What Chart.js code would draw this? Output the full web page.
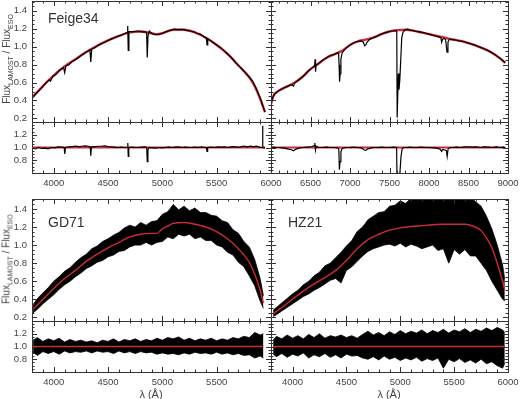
<!DOCTYPE html>
<html>
<head>
<meta charset="utf-8">
<script src="https://cdn.jsdelivr.net/npm/chart.js@4.4.1/dist/chart.umd.min.js"></script>
<style>
body { margin: 0; background: #fff; }
#wrap { position: relative; width: 520px; height: 399px; overflow: hidden; font-family: "Liberation Sans", Arial, sans-serif; color: #444; }
#wrap canvas { position: absolute; left: 0; top: 0; }
.name { position: absolute; font-size: 14px; color: #333; }
.ytitle { position: absolute; left: 7px; font-size: 10px; white-space: nowrap; transform: translate(-50%, -50%) rotate(-90deg); }
.ytitle sub { font-size: 7px; }
.xtitle { position: absolute; top: 394px; font-size: 11px; transform: translate(-50%, -50%); }
</style>
</head>
<body>
<div id="wrap">
  <canvas id="f34a" width="520" height="399"></canvas>
  <canvas id="f34b" width="520" height="399"></canvas>
  <canvas id="f34c" width="520" height="399"></canvas>
  <canvas id="f34d" width="520" height="399"></canvas>
  <canvas id="gda" width="520" height="399"></canvas>
  <canvas id="gdb" width="520" height="399"></canvas>
  <canvas id="hza" width="520" height="399"></canvas>
  <canvas id="hzb" width="520" height="399"></canvas>
  <div class="name" style="left:48px;top:10px">Feige34</div>
  <div class="name" style="left:48px;top:214px">GD71</div>
  <div class="name" style="left:288px;top:214px">HZ21</div>
  <div class="ytitle" style="top:59px">Flux<sub>LAMOST</sub> / Flux<sub>ESO</sub></div>
  <div class="ytitle" style="top:259px">Flux<sub>LAMOST</sub> / Flux<sub>ESO</sub></div>
  <div class="xtitle" style="left:151px">λ (Å)</div>
  <div class="xtitle" style="left:389px">λ (Å)</div>
</div>
<script>
// ---- axis ticks ----
const blueRange = [3800, 6000];
const redRange = [6000, 9000];
const fluxRange = [0.16, 1.51];
const ratioRange = [0.6, 1.4];
const blueTicks = [4000, 4500, 5000, 5500];
const blueTicksEnd = [4000, 4500, 5000, 5500, 6000];
const redTicks = [6000, 6500, 7000, 7500, 8000, 8500, 9000];
const fluxTicks = [0.2, 0.4, 0.6, 0.8, 1.0, 1.2, 1.4];
const ratioTicks = [0.8, 1.0, 1.2];

// ---- Feige34, blue arm: observed [lambda, flux] ----
const feigeBlue = [[3800,0.43],[3830,0.47],[3860,0.505],[3900,0.555],[3930,0.60],[3960,0.63],[3970,0.615],[3990,0.665],
  [4020,0.69],[4050,0.735],[4070,0.75],[4090,0.77],[4101,0.71],[4112,0.785],[4140,0.80],[4170,0.835],[4200,0.855],
  [4230,0.88],[4260,0.91],[4290,0.935],[4320,0.955],[4333,0.965],[4341,0.83],[4350,0.975],[4380,0.99],[4410,1.015],
  [4440,1.035],[4470,1.05],[4500,1.07],[4530,1.085],[4560,1.10],[4590,1.115],[4620,1.13],[4650,1.145],[4675,1.16],
  [4681,1.23],[4686,0.96],[4692,1.17],[4720,1.165],[4750,1.17],[4780,1.175],[4810,1.165],[4840,1.165],[4855,1.16],
  [4861,0.88],[4868,1.12],[4880,1.175],[4900,1.15],[4930,1.135],[4960,1.135],[4990,1.145],[5020,1.16],[5050,1.175],
  [5080,1.185],[5110,1.195],[5140,1.19],[5170,1.195],[5200,1.19],[5230,1.18],[5260,1.175],[5290,1.165],[5320,1.15],
  [5350,1.14],[5380,1.115],[5405,1.095],[5411,1.02],[5418,1.09],[5440,1.07],[5470,1.045],[5500,1.02],[5530,0.995],
  [5560,0.965],[5590,0.93],[5620,0.895],[5650,0.86],[5680,0.815],[5710,0.78],[5740,0.74],[5770,0.70],[5800,0.66],
  [5830,0.62],[5860,0.545],[5890,0.46],[5910,0.40],[5930,0.32],[5945,0.27]];
const feigeBlueModel = [[3800,0.43],[3900,0.56],[4000,0.68],[4100,0.78],[4200,0.86],[4300,0.94],[4400,1.01],[4500,1.07],
  [4600,1.12],[4700,1.16],[4800,1.17],[4900,1.15],[4950,1.14],[5000,1.15],[5100,1.19],[5200,1.19],[5300,1.16],
  [5400,1.10],[5500,1.02],[5600,0.92],[5700,0.79],[5800,0.66],[5850,0.56],[5900,0.42],[5945,0.27]];
const feigeBlueRatio = [[3800,0.99],[3830,0.98],[3860,1.00],[3890,0.985],[3920,0.99],[3950,0.98],[3980,1.00],[4010,0.995],
  [4040,1.01],[4070,1.005],[4096,1.00],[4102,0.90],[4108,1.00],[4140,1.01],[4170,1.015],[4200,1.02],[4230,1.015],
  [4260,1.02],[4290,1.025],[4320,1.02],[4336,1.01],[4341,0.87],[4347,1.01],[4380,1.015],[4410,1.02],[4440,1.02],
  [4470,1.025],[4500,1.015],[4530,1.01],[4560,1.005],[4590,1.00],[4620,1.005],[4650,1.00],[4677,1.00],[4682,1.07],
  [4686,0.86],[4691,1.00],[4720,1.005],[4750,1.00],[4780,1.00],[4810,1.005],[4840,1.01],[4856,1.00],[4861,0.78],
  [4867,0.96],[4880,1.00],[4910,0.995],[4940,0.99],[4970,1.00],[5000,0.995],[5030,1.00],[5060,1.005],[5090,1.00],
  [5120,1.005],[5150,1.01],[5180,1.00],[5210,1.005],[5240,1.00],[5270,1.00],[5300,1.005],[5330,1.00],[5360,1.01],
  [5390,1.00],[5406,1.00],[5411,0.94],[5417,1.00],[5450,1.005],[5480,1.00],[5510,1.01],[5540,1.005],[5570,1.01],
  [5600,1.00],[5630,1.01],[5660,1.015],[5690,1.005],[5720,1.01],[5750,1.02],[5780,1.01],[5810,1.02],[5840,1.015],
  [5870,1.02],[5900,1.00],[5918,1.00],[5922,1.34],[5926,1.00],[5945,0.99]];

// ---- Feige34, red arm ----
const feigeRed = [[6000,0.36],[6015,0.42],[6040,0.465],[6070,0.49],[6100,0.51],[6130,0.525],[6160,0.54],[6200,0.555],
  [6240,0.57],[6270,0.575],[6283,0.56],[6300,0.595],[6330,0.615],[6360,0.635],[6400,0.665],[6430,0.69],[6460,0.72],
  [6500,0.75],[6530,0.77],[6552,0.79],[6558,0.86],[6564,0.72],[6572,0.80],[6600,0.81],[6630,0.835],[6660,0.855],
  [6700,0.875],[6730,0.89],[6760,0.905],[6800,0.915],[6830,0.925],[6855,0.93],[6862,0.80],[6868,0.61],[6875,0.70],
  [6885,0.86],[6900,0.93],[6930,0.965],[6960,0.99],[7000,1.02],[7030,1.035],[7060,1.05],[7100,1.06],[7140,1.065],
  [7170,1.05],[7185,1.01],[7200,1.02],[7215,1.05],[7240,1.075],[7270,1.09],[7300,1.10],[7340,1.115],[7380,1.135],
  [7420,1.15],[7460,1.16],[7500,1.17],[7540,1.175],[7580,1.18],[7592,1.17],[7597,0.21],[7606,0.21],[7612,0.70],
  [7620,0.52],[7630,0.62],[7642,0.85],[7655,1.10],[7670,1.16],[7700,1.19],[7730,1.195],[7760,1.185],[7800,1.18],
  [7840,1.17],[7880,1.165],[7920,1.16],[7960,1.15],[8000,1.14],[8040,1.13],[8080,1.12],[8120,1.11],[8150,1.10],
  [8160,1.05],[8170,1.08],[8190,1.095],[8210,1.08],[8228,0.94],[8240,1.05],[8260,1.085],[8300,1.08],[8340,1.075],
  [8380,1.065],[8420,1.06],[8460,1.05],[8500,1.04],[8540,1.03],[8580,1.02],[8620,1.005],[8660,0.99],[8700,0.975],
  [8740,0.96],[8780,0.94],[8820,0.92],[8860,0.895],[8900,0.87],[8940,0.84],[8965,0.82]];
const feigeRedModel = [[6000,0.36],[6030,0.45],[6100,0.51],[6200,0.555],[6300,0.60],[6400,0.665],[6500,0.75],[6600,0.81],
  [6700,0.875],[6800,0.915],[6900,0.955],[7000,1.02],[7100,1.06],[7200,1.08],[7300,1.105],[7400,1.14],[7500,1.17],
  [7600,1.185],[7700,1.19],[7800,1.18],[7900,1.16],[8000,1.14],[8100,1.12],[8200,1.10],[8300,1.08],[8400,1.065],
  [8500,1.04],[8600,1.01],[8700,0.975],[8800,0.93],[8900,0.87],[8965,0.82]];
const feigeRedRatio = [[6000,1.00],[6030,1.005],[6060,1.00],[6100,1.00],[6140,0.995],[6180,0.985],[6220,0.975],[6260,0.965],
  [6283,0.95],[6310,0.97],[6350,0.99],[6400,1.00],[6440,1.005],[6480,1.005],[6520,1.015],[6545,1.03],[6555,1.07],
  [6563,0.96],[6572,1.02],[6600,1.00],[6650,1.00],[6700,1.005],[6750,1.00],[6800,1.00],[6840,0.995],[6858,0.98],
  [6866,0.65],[6874,0.78],[6885,0.93],[6900,0.985],[6950,1.00],[7000,1.00],[7050,1.005],[7100,1.00],[7150,0.99],
  [7180,0.96],[7200,0.955],[7220,0.975],[7260,0.99],[7300,1.00],[7350,1.00],[7400,1.005],[7450,1.00],[7500,1.00],
  [7550,1.005],[7590,1.00],[7597,0.30],[7606,0.30],[7612,0.55],[7620,0.50],[7632,0.60],[7645,0.85],[7660,0.98],
  [7680,1.00],[7720,1.00],[7760,1.005],[7800,1.00],[7850,1.00],[7900,1.005],[7950,1.00],[8000,1.00],[8050,0.995],
  [8100,0.99],[8140,0.975],[8160,0.94],[8175,0.97],[8200,0.96],[8220,0.95],[8230,0.86],[8242,0.98],[8270,1.00],
  [8300,1.00],[8350,1.005],[8400,1.00],[8450,1.01],[8500,1.01],[8550,1.005],[8600,1.01],[8650,1.00],[8700,1.01],
  [8750,1.005],[8800,1.00],[8850,1.01],[8900,1.00],[8940,1.005],[8965,0.995]];

// ---- GD71: noisy spectrum as [lambda, upper, lower] ----
const gdBand = [[3810,0.34,0.25],[3850,0.41,0.29],[3900,0.47,0.35],[3950,0.53,0.40],[4000,0.60,0.45],[4050,0.65,0.51],
  [4100,0.71,0.56],[4150,0.75,0.60],[4200,0.81,0.65],[4250,0.86,0.69],[4300,0.90,0.74],[4350,0.96,0.77],[4400,0.99,0.81],
  [4450,1.04,0.83],[4500,1.07,0.87],[4550,1.11,0.89],[4600,1.14,0.93],[4650,1.19,0.94],[4700,1.22,0.98],[4750,1.20,1.00],
  [4800,1.25,1.00],[4850,1.22,1.03],[4900,1.26,1.00],[4950,1.27,1.03],[5000,1.34,1.04],[5050,1.37,1.09],[5100,1.45,1.07],
  [5150,1.39,1.12],[5200,1.43,1.10],[5250,1.38,1.12],[5300,1.41,1.07],[5350,1.36,1.09],[5400,1.36,1.05],[5450,1.33,1.05],
  [5500,1.32,1.00],[5550,1.27,0.98],[5600,1.25,0.92],[5650,1.17,0.89],[5700,1.13,0.81],[5750,1.04,0.76],[5800,0.98,0.66],
  [5850,0.84,0.55],[5900,0.63,0.38],[5930,0.44,0.30]];
const gdModel = [[3810,0.29],[3900,0.40],[4000,0.52],[4100,0.63],[4200,0.72],[4300,0.82],[4400,0.90],[4500,0.97],
  [4600,1.03],[4700,1.09],[4800,1.12],[4900,1.13],[4950,1.13],[5000,1.18],[5050,1.21],[5100,1.24],[5200,1.25],
  [5300,1.23],[5400,1.20],[5500,1.15],[5600,1.07],[5700,0.96],[5800,0.81],[5850,0.68],[5900,0.50],[5930,0.36]];
const gdRatioBand = [[3810,1.10,0.91],[3850,1.14,0.86],[3900,1.08,0.92],[3950,1.12,0.89],[4000,1.09,0.92],[4050,1.13,0.88],
  [4100,1.07,0.93],[4150,1.11,0.90],[4200,1.08,0.92],[4250,1.10,0.91],[4300,1.07,0.93],[4350,1.09,0.90],[4400,1.06,0.93],
  [4450,1.10,0.91],[4500,1.08,0.92],[4550,1.12,0.89],[4600,1.07,0.93],[4650,1.11,0.90],[4700,1.09,0.92],[4750,1.12,0.89],
  [4800,1.08,0.92],[4850,1.11,0.90],[4900,1.09,0.91],[4950,1.13,0.88],[5000,1.10,0.90],[5050,1.14,0.88],[5100,1.12,0.89],
  [5150,1.15,0.87],[5200,1.10,0.90],[5250,1.13,0.88],[5300,1.09,0.91],[5350,1.12,0.89],[5400,1.10,0.90],[5450,1.13,0.88],
  [5500,1.09,0.91],[5550,1.12,0.88],[5600,1.10,0.90],[5650,1.14,0.87],[5700,1.12,0.89],[5750,1.16,0.86],[5800,1.14,0.87],
  [5850,1.22,0.82],[5900,1.18,0.85],[5930,1.20,0.82]];
const gdRatioModel = [[3810,1.0],[5930,1.0]];

// ---- HZ21 ----
const hzBand = [[3820,0.28,0.21],[3850,0.31,0.23],[3900,0.36,0.27],[3950,0.41,0.31],[4000,0.46,0.35],[4050,0.50,0.39],
  [4100,0.56,0.43],[4150,0.60,0.46],[4200,0.66,0.50],[4250,0.70,0.53],[4300,0.77,0.57],[4350,0.80,0.61],[4400,0.86,0.63],
  [4450,0.92,0.58],[4500,0.99,0.72],[4550,1.05,0.76],[4600,1.15,0.82],[4650,1.20,0.88],[4700,1.28,0.93],[4750,1.32,0.96],
  [4800,1.36,0.98],[4850,1.37,1.00],[4900,1.43,1.01],[4950,1.44,0.99],[5000,1.49,1.02],[5050,1.46,0.98],[5100,1.52,1.01],
  [5150,1.55,0.99],[5200,1.55,0.96],[5250,1.56,0.98],[5300,1.55,1.00],[5350,1.56,0.94],[5400,1.55,0.96],[5450,1.56,0.80],
  [5500,1.55,0.95],[5550,1.56,0.90],[5600,1.55,0.95],[5650,1.53,0.88],[5700,1.48,0.88],[5750,1.43,0.80],[5800,1.32,0.72],
  [5850,1.18,0.60],[5900,1.00,0.50],[5950,0.78,0.40],[5970,0.62,0.38]];
const hzModel = [[3820,0.24],[3900,0.31],[4000,0.40],[4100,0.49],[4200,0.57],[4300,0.64],[4400,0.72],[4500,0.83],
  [4600,0.96],[4700,1.06],[4800,1.12],[4900,1.165],[5000,1.19],[5100,1.205],[5200,1.215],[5300,1.225],[5400,1.23],
  [5500,1.23],[5600,1.23],[5650,1.22],[5700,1.20],[5750,1.16],[5800,1.08],[5850,0.97],[5900,0.80],[5950,0.60],[5970,0.50]];
const hzRatioBand = [[3820,1.10,0.88],[3850,1.16,0.84],[3900,1.12,0.89],[3950,1.18,0.83],[4000,1.13,0.88],[4050,1.17,0.85],
  [4100,1.12,0.90],[4150,1.19,0.82],[4200,1.14,0.87],[4250,1.20,0.84],[4300,1.13,0.89],[4350,1.17,0.83],[4400,1.15,0.87],
  [4450,1.18,0.82],[4500,1.14,0.88],[4550,1.17,0.85],[4600,1.13,0.86],[4650,1.19,0.82],[4700,1.24,0.80],[4750,1.18,0.84],
  [4800,1.22,0.79],[4850,1.17,0.85],[4900,1.23,0.80],[4950,1.19,0.83],[5000,1.25,0.78],[5050,1.20,0.82],[5100,1.24,0.79],
  [5150,1.21,0.83],[5200,1.26,0.77],[5250,1.20,0.81],[5300,1.25,0.78],[5350,1.22,0.82],[5400,1.27,0.66],[5450,1.21,0.80],
  [5500,1.26,0.76],[5550,1.23,0.81],[5600,1.28,0.75],[5650,1.22,0.79],[5700,1.27,0.74],[5750,1.24,0.80],[5800,1.29,0.73],
  [5850,1.25,0.76],[5900,1.30,0.70],[5950,1.26,0.66],[5970,1.22,0.74]];
const hzRatioModel = [[3820,1.0],[5970,1.0]];

const RED = '#cc2a36';
const W = 520, H = 399;

Chart.defaults.font.family = '"Liberation Sans", Arial, sans-serif';
Chart.defaults.font.size = 9.5;
Chart.defaults.color = '#444';

const pts = (rows, k) => rows.map(r => ({ x: r[0], y: r[k || 1] }));

function model(rows, width) {
  return { data: pts(rows), borderColor: RED, borderWidth: width || 1.4, cubicInterpolationMode: 'monotone' };
}
function spectrum(rows) {
  return { data: pts(rows), borderColor: '#000', borderWidth: 1.2 };
}
function band(rows) {
  return [
    { data: pts(rows, 1), borderColor: '#000', borderWidth: 0.8 },
    { data: pts(rows, 2), borderColor: '#000', borderWidth: 0.8, fill: '-1', backgroundColor: '#000' }
  ];
}

// box with inward ticks on all four sides
function frame(xMajor, yMajor) {
  return {
    id: 'frame',
    afterDatasetsDraw(chart) {
      const { ctx, chartArea: a, scales } = chart;
      const xs = scales.x, ys = scales.y;
      ctx.save();
      ctx.strokeStyle = '#333';
      ctx.lineWidth = 1;
      ctx.beginPath();
      const tx = (v, len) => {
        const p = Math.round(xs.getPixelForValue(v)) + 0.5;
        ctx.moveTo(p, a.top); ctx.lineTo(p, a.top + len);
        ctx.moveTo(p, a.bottom); ctx.lineTo(p, a.bottom - len);
      };
      const ty = (v, len) => {
        const p = Math.round(ys.getPixelForValue(v)) + 0.5;
        ctx.moveTo(a.left, p); ctx.lineTo(a.left + len, p);
        ctx.moveTo(a.right, p); ctx.lineTo(a.right - len, p);
      };
      for (let k = Math.ceil(xs.min / 100); k * 100 <= xs.max; k++) tx(k * 100, 2.5);
      for (let k = Math.ceil(ys.min / 0.05 - 1e-6); k * 0.05 <= ys.max + 1e-6; k++) ty(k * 0.05, 2.5);
      xMajor.forEach(v => tx(v, 5));
      yMajor.forEach(v => ty(v, 5));
      ctx.stroke();
      ctx.strokeRect(Math.round(a.left) + 0.5, Math.round(a.top) + 0.5,
        Math.round(a.right - a.left), Math.round(a.bottom - a.top));
      ctx.restore();
    }
  };
}

function panel(id, area, xr, yr, xMajor, yMajor, xLab, yLab, datasets) {
  const xH = xLab ? 20 : 0, yW = yLab ? 32 : 0;
  return new Chart(document.getElementById(id), {
    type: 'line',
    data: { datasets },
    options: {
      responsive: false,
      animation: false,
      events: [],
      layout: { autoPadding: false, padding: { left: area[0] - yW, top: area[1], right: W - area[2], bottom: H - area[3] - xH } },
      plugins: { legend: { display: false }, tooltip: { enabled: false } },
      elements: { point: { radius: 0 }, line: { tension: 0 } },
      scales: {
        x: {
          type: 'linear', min: xr[0], max: xr[1], display: !!xLab,
          grid: { display: false, drawTicks: false }, border: { display: false },
          ticks: { padding: 5, autoSkip: false, maxRotation: 0, callback: v => String(v) },
          afterBuildTicks: s => { if (xLab) s.ticks = xLab.map(v => ({ value: v })); },
          afterFit: s => { s.height = xH; s.paddingLeft = 0; s.paddingRight = 0; }
        },
        y: {
          type: 'linear', min: yr[0], max: yr[1], display: !!yLab,
          grid: { display: false, drawTicks: false }, border: { display: false },
          ticks: { padding: 5, autoSkip: false, callback: v => v.toFixed(1) },
          afterBuildTicks: s => { if (yLab) s.ticks = yLab.map(v => ({ value: v })); },
          afterFit: s => { s.width = yW; s.paddingTop = 0; s.paddingBottom = 0; }
        }
      }
    },
    plugins: [frame(xMajor, yMajor)]
  });
}

// top row: Feige34 (black spectrum drawn over the red model)
panel('f34a', [32, 1, 271, 122], blueRange, fluxRange, blueTicks, fluxTicks, null, fluxTicks,
  [spectrum(feigeBlue), model(feigeBlueModel, 2.4)]);
panel('f34b', [271, 1, 508, 122], redRange, fluxRange, redTicks, fluxTicks, null, null,
  [spectrum(feigeRed), model(feigeRedModel, 2.4)]);
panel('f34c', [32, 122, 271, 173], blueRange, ratioRange, blueTicks, ratioTicks, blueTicks, ratioTicks,
  [spectrum(feigeBlueRatio), model([[3800,1.0],[5945,1.0]], 2.2)]);
panel('f34d', [271, 122, 508, 173], redRange, ratioRange, redTicks, ratioTicks, redTicks, null,
  [spectrum(feigeRedRatio), model([[6000,1.0],[8965,1.0]], 2.2)]);

// bottom row: GD71 and HZ21 (red model over the noise)
panel('gda', [32, 199, 271, 321], blueRange, fluxRange, blueTicks, fluxTicks, null, fluxTicks,
  [model(gdModel)].concat(band(gdBand)));
panel('gdb', [32, 321, 271, 372], blueRange, ratioRange, blueTicks, ratioTicks, blueTicks, ratioTicks,
  [model(gdRatioModel)].concat(band(gdRatioBand)));
panel('hza', [271, 199, 508, 321], blueRange, fluxRange, blueTicks, fluxTicks, null, null,
  [model(hzModel)].concat(band(hzBand)));
panel('hzb', [271, 321, 508, 372], blueRange, ratioRange, blueTicks, ratioTicks, blueTicksEnd, null,
  [model(hzRatioModel)].concat(band(hzRatioBand)));
</script>
</body>
</html>
